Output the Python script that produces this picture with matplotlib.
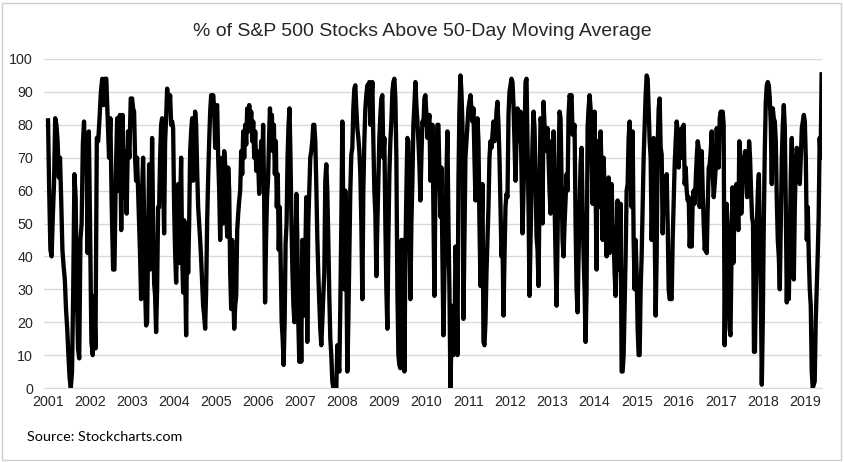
import numpy as np
import matplotlib
matplotlib.use("Agg")
import matplotlib.pyplot as plt
from matplotlib.patches import Rectangle

title = "% of S&P 500 Stocks Above 50-Day Moving Average"
source = "Source: Stockcharts.com"
years = list(range(2001, 2020))
yticks = list(range(0, 101, 10))
last_year_span = 0.4

y2001 = [82, 60, 42, 40, 52, 62, 82, 80, 75, 64, 70, 57, 42, 37, 33, 24, 18, 10, 3, 0, 5, 30, 65, 58, 30, 12, 9, 45, 50, 74, 81, 66, 75, 41, 78]
y2002 = [50, 14, 10, 28, 12, 76, 75, 82, 90, 94, 86, 94, 94, 82, 70, 82, 55, 36, 36, 65, 82, 60, 83, 48, 83, 58, 72, 53, 78, 70, 88]
y2003 = [88, 85, 84, 70, 63, 70, 60, 50, 40, 27, 60, 70, 52, 30, 19, 20, 43, 68, 36, 50, 76, 50, 32, 28, 17, 30, 55, 55, 70, 80, 82, 65, 47, 75, 82, 91, 88, 86, 89, 80, 81, 79]
y2004 = [55, 41, 32, 45, 62, 38, 55, 70, 40, 29, 51, 35, 16, 50, 35, 50, 72, 78, 82, 63, 75, 84, 80, 66, 55, 50, 45, 39, 32, 25, 22, 18, 30, 51, 64, 75, 84, 89, 86, 89, 85, 73]
y2005 = [85, 86, 70, 60, 45, 58, 70, 50, 72, 68, 55, 46, 67, 60, 35, 24, 45, 30, 18, 25, 28, 48, 53, 57, 60, 72, 65, 78, 70, 80, 74, 85, 78, 86, 79, 84, 75, 81, 70, 78, 66, 72]
y2006 = [68, 59, 66, 75, 62, 80, 60, 26, 45, 58, 63, 75, 85, 78, 83, 72, 80, 65, 75, 55, 65, 42, 55, 38, 20, 15, 7, 20, 44, 50, 70, 80, 85, 70, 50, 35, 25, 20, 40, 59, 45, 20, 8]
y2007 = [30, 8, 45, 44, 22, 40, 58, 14, 50, 60, 70, 72, 75, 80, 80, 75, 62, 46, 35, 26, 18, 13, 20, 28, 35, 63, 68, 60, 45, 28, 15, 10, 2, 0, 0, 1, 0, 13, 8, 5, 25, 50]
y2008 = [81, 53, 30, 60, 40, 5, 20, 40, 60, 71, 73, 85, 91, 92, 85, 79, 76, 72, 65, 50, 27, 60, 75, 85, 89, 92, 92, 93, 80, 85, 93, 75, 60, 53, 34, 50, 63, 76, 83, 88, 89, 70]
y2009 = [76, 50, 30, 18, 45, 65, 75, 81, 90, 93, 94, 88, 70, 30, 10, 7, 6, 45, 7, 45, 5, 40, 60, 76, 75, 50, 27, 50, 63, 80, 86, 93, 86, 81, 75, 68, 57, 70, 81, 80, 88, 89]
y2010 = [83, 76, 80, 83, 63, 75, 80, 55, 28, 60, 75, 80, 80, 65, 52, 67, 40, 16, 35, 45, 65, 78, 50, 30, 0, 15, 25, 10, 12, 43, 35, 10, 63, 85, 95, 90, 80, 21, 45, 70, 75, 80]
y2011 = [85, 87, 89, 85, 81, 85, 70, 57, 70, 82, 75, 50, 31, 45, 62, 14, 13, 20, 35, 45, 55, 70, 75, 73, 77, 81, 75, 78, 84, 87, 80, 70, 55, 40, 45, 22, 40, 55, 59, 58, 83, 90]
y2012 = [92, 94, 93, 86, 75, 63, 75, 85, 78, 75, 84, 65, 47, 60, 75, 93, 94, 75, 55, 28, 45, 60, 75, 84, 79, 65, 46, 42, 31, 60, 82, 80, 50, 87, 80, 75, 72, 79, 70, 60, 53, 75]
y2013 = [70, 78, 57, 40, 25, 45, 70, 84, 82, 63, 45, 40, 50, 57, 65, 60, 83, 89, 88, 89, 77, 78, 80, 50, 30, 23, 40, 55, 68, 73, 55, 40, 30, 14, 30, 79, 85, 89, 85, 70, 56, 73]
y2014 = [84, 60, 36, 75, 60, 55, 78, 65, 45, 70, 60, 58, 40, 55, 64, 41, 50, 62, 50, 46, 35, 28, 40, 57, 36, 45, 56, 5, 5, 10, 25, 40, 60, 62, 76, 81, 70, 55, 78, 45, 30, 45]
y2015 = [35, 18, 10, 10, 30, 40, 55, 70, 80, 89, 95, 94, 85, 75, 70, 45, 60, 76, 50, 22, 40, 73, 85, 88, 73, 71, 47, 60, 59, 55, 65, 50, 30, 27, 28, 27, 45, 57, 68, 75, 81, 78]
y2016 = [67, 78, 70, 79, 70, 80, 62, 67, 60, 57, 58, 43, 50, 43, 57, 60, 56, 63, 70, 75, 73, 55, 65, 72, 60, 50, 42, 45, 41, 55, 67, 68, 72, 78, 65, 58, 62, 67, 79, 70, 67, 82]
y2017 = [84, 83, 84, 80, 13, 40, 56, 50, 30, 18, 16, 40, 61, 38, 55, 60, 62, 58, 48, 75, 71, 53, 60, 70, 65, 72, 70, 58, 62, 75, 70, 60, 52, 50, 11, 11, 30, 50, 60, 65, 45, 30, 1]
y2018 = [20, 50, 72, 87, 92, 93, 92, 88, 80, 62, 85, 82, 81, 75, 57, 45, 40, 30, 50, 70, 80, 86, 79, 55, 26, 42, 27, 45, 65, 76, 55, 33, 55, 68, 73, 70, 65, 62, 70, 79, 81, 83]
y2019 = [81, 70, 45, 55, 40, 30, 25, 5, 0, 1, 2, 20, 30, 40, 52, 76, 70, 96]

series = [y2001, y2002, y2003, y2004, y2005, y2006, y2007, y2008, y2009, y2010,
          y2011, y2012, y2013, y2014, y2015, y2016, y2017, y2018, y2019]

xs, vs = [], []
for yr, vals in zip(years, series):
    n = len(vals)
    if yr == years[-1]:
        x = yr + np.arange(n) * (last_year_span / (n - 1))
    else:
        x = yr + np.arange(n) / n
    xs.extend(x)
    vs.extend(vals)

plt.rcParams['font.family'] = ['Liberation Sans', 'DejaVu Sans']

fig = plt.figure(figsize=(8.44, 4.62), dpi=100)
ax = fig.add_axes([44/844, 74/462, (822-44)/844, (388-59)/462])

ax.plot(xs, vs, color='black', lw=3.1, solid_joinstyle='round', solid_capstyle='butt')

ax.set_ylim(0, 100)
ax.set_xlim(2001 - 4/42.1, 2001 + (822-47)/42.1)
ax.set_yticks(yticks)
ax.set_xticks(years)
ax.set_xticklabels([str(y) for y in years])
ax.tick_params(axis='both', length=0, labelsize=10.3, colors='#262626')
ax.tick_params(axis='y', pad=8)
ax.tick_params(axis='x', pad=5)
ax.grid(axis='y', color='#d9d9d9', lw=1)
ax.set_axisbelow(True)
for s in ['top', 'right', 'left']:
    ax.spines[s].set_visible(False)
ax.spines['bottom'].set_color('#d9d9d9')

fig.text(422/844, 1 - 31/462, title, ha='center', va='center', fontsize=14, color='#262626')
fig.text(27/844, 1 - 437/462, source, ha='left', va='center', fontsize=10.4,
         family=['Lato', 'DejaVu Sans'], color='black')

fig.add_artist(Rectangle((2/844, 2/462), 839/844, 457/462, transform=fig.transFigure,
                         fill=False, edgecolor='#d0d0d0', lw=1))

fig.savefig('out.png', dpi=100)
